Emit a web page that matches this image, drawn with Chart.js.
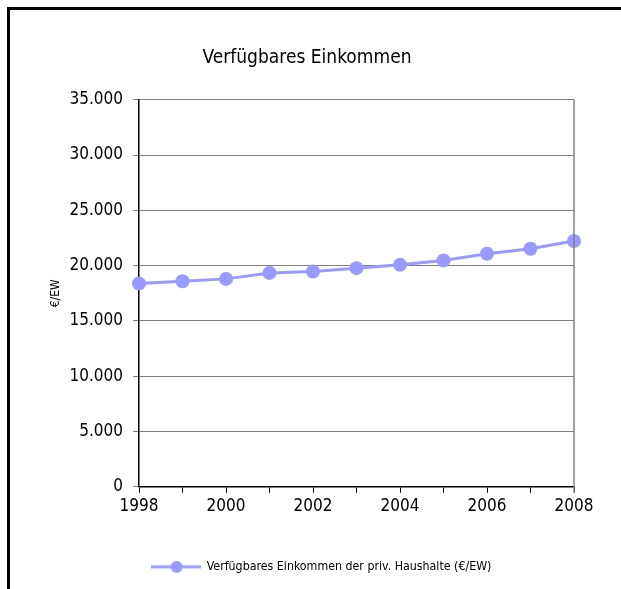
<!DOCTYPE html>
<html>
<head>
<meta charset="utf-8">
<script src="https://cdn.jsdelivr.net/npm/chart.js@4/dist/chart.umd.min.js"></script>
<style>
html,body{margin:0;padding:0;background:#fff;}
#wrap{position:relative;width:621px;height:589px;}
#frame{position:absolute;left:7px;top:7px;right:0;bottom:0;border-top:3px solid #000;border-left:3px solid #000;pointer-events:none;}
canvas{position:absolute;left:0;top:0;}
</style>
</head>
<body>
<div id="wrap"><canvas id="c" width="621" height="589"></canvas><div id="frame"></div></div>
<script>
const title = "Verfügbares Einkommen";
const yAxisTitle = "€/EW";
const seriesName = "Verfügbares Einkommen der priv. Haushalte (€/EW)";
const years = [1998, 1999, 2000, 2001, 2002, 2003, 2004, 2005, 2006, 2007, 2008];
const income = [18380, 18590, 18800, 19340, 19470, 19770, 20070, 20460, 21070, 21520, 22220];
const yTicks = [0, 5000, 10000, 15000, 20000, 25000, 30000, 35000];

const FONT = "'Liberation Sans Narrow', 'DejaVu Sans Condensed', 'Arial Narrow', sans-serif";
const COLOR = '#9999FF';

// legend marker: line with circle
const mk = document.createElement('canvas');
mk.width = 50; mk.height = 14;
(function(){
  const g = mk.getContext('2d');
  g.strokeStyle = COLOR; g.lineWidth = 3;
  g.beginPath(); g.moveTo(0, 7); g.lineTo(50, 7); g.stroke();
  g.fillStyle = COLOR;
  g.beginPath(); g.arc(26, 7, 6, 0, Math.PI * 2); g.fill();
})();

const fmt = v => String(v).replace(/\B(?=(\d{3})+(?!\d))/g, '.');

const tweaks = {
  id: 'tweaks',
  afterLayout(chart) {
    const lg = chart.legend;
    if (lg) { lg.left += 14; lg.right += 14; }
  },
  afterDatasetsDraw(chart) {
    const a = chart.chartArea, ctx = chart.ctx;
    ctx.save();
    ctx.strokeStyle = '#808080'; ctx.lineWidth = 1.5;
    ctx.beginPath(); ctx.moveTo(a.right, a.top); ctx.lineTo(a.right, a.bottom + 6); ctx.stroke();
    ctx.restore();
  }
};

new Chart(document.getElementById('c'), {
  type: 'line',
  data: {
    datasets: [{
      label: seriesName,
      data: years.map((y, i) => ({ x: y, y: income[i] })),
      borderColor: COLOR,
      backgroundColor: COLOR,
      borderWidth: 3,
      pointRadius: 7,
      pointHoverRadius: 7,
      pointBackgroundColor: COLOR,
      pointBorderColor: COLOR,
      pointBorderWidth: 0,
      tension: 0,
      clip: false
    }]
  },
  options: {
    responsive: false,
    animation: false,
    layout: { padding: { left: 40, right: 47, top: 0, bottom: 6 } },
    plugins: {
      title: {
        display: true, text: title, color: '#000',
        font: { family: FONT, size: 19, weight: 'normal' },
        padding: { top: 47, bottom: 30 }
      },
      legend: {
        position: 'bottom',
        labels: {
          color: '#000',
          font: { family: FONT, size: 12.3 },
          usePointStyle: true,
          pointStyle: mk,
          pointStyleWidth: 50,
          boxHeight: 14,
          padding: 10
        }
      },
      tooltip: { enabled: false }
    },
    scales: {
      x: {
        type: 'linear',
        min: years[0], max: years[years.length - 1],
        afterBuildTicks(s) { s.ticks = years.map(v => ({ value: v })); },
        afterFit(s) { s.height = 64; },
        grid: { drawOnChartArea: false, color: '#000', tickLength: 6, tickWidth: 1 },
        border: { color: '#000', width: 1.5 },
        ticks: {
          autoSkip: false, maxRotation: 0, color: '#000', padding: 4,
          font: { family: FONT, size: 17 },
          callback: v => (v % 2 === 0 ? String(v) : '')
        }
      },
      y: {
        min: 0, max: 35000,
        afterBuildTicks(s) { s.ticks = yTicks.map(v => ({ value: v })); },
        afterFit(s) { s.width = 99; },
        grid: { color: '#808080', tickLength: 6, lineWidth: 1 },
        border: { color: '#000', width: 1.5 },
        ticks: {
          color: '#000', padding: 10,
          font: { family: FONT, size: 17 },
          callback: v => fmt(v)
        },
        title: {
          display: true, text: yAxisTitle, color: '#000',
          font: { family: FONT, size: 12 }, padding: { top: 9, bottom: 0 }
        }
      }
    }
  },
  plugins: [tweaks]
});
</script>
</body>
</html>
